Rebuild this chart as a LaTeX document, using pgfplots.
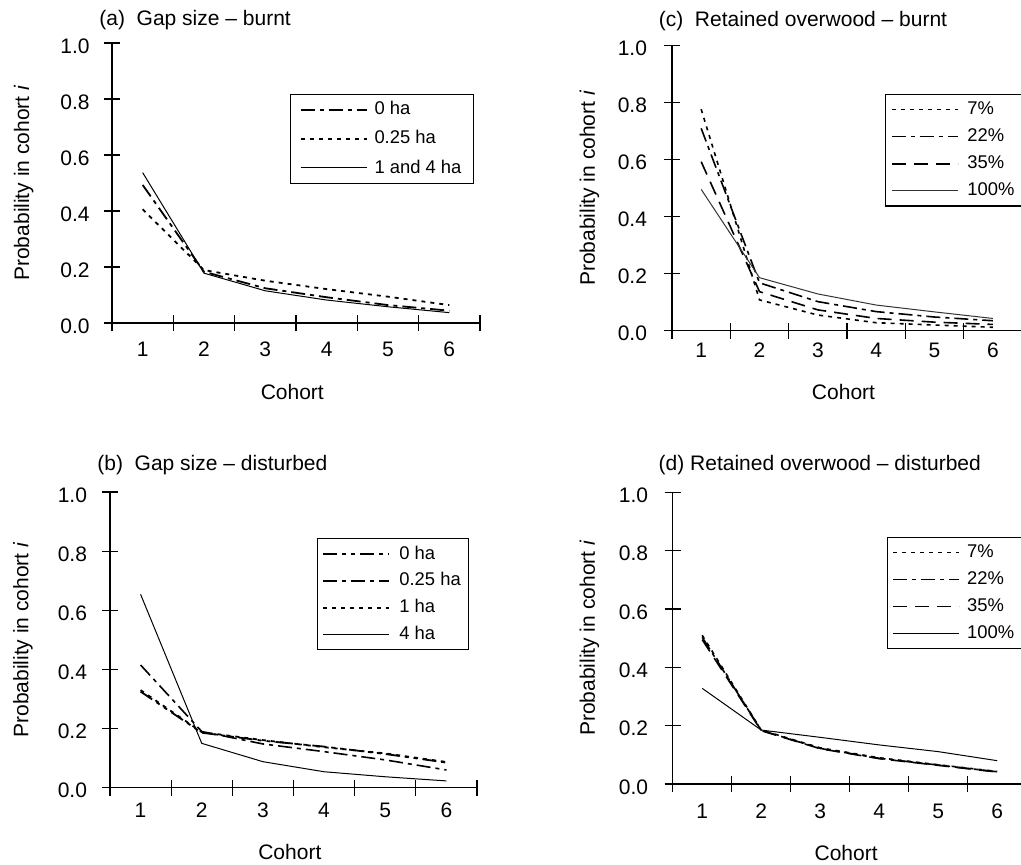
\documentclass[border=0pt]{standalone}
\usepackage{fontspec}
\setmainfont{Liberation Sans}
\usepackage{pgfplots}
\pgfplotsset{compat=1.18}
\pgfplotsset{
  panel/.style={
    scale only axis, axis lines=left, axis line style={-, line width=0.6pt},
    xmin=0.5, xmax=6.5, ymin=0, ymax=1,
    xtick={0.5,1.5,2.5,3.5,4.5,5.5,6.5}, xticklabels={{},{},{},{},{},{},{}},
    extra x ticks={1,2,3,4,5,6}, extra x tick labels={1,2,3,4,5,6},
    extra x tick style={major tick length=0pt},
    ytick={0,0.2,0.4,0.6,0.8,1}, yticklabels={0.0,0.2,0.4,0.6,0.8,1.0},
    tick align=center, major tick length=8pt, tick style={black, line width=0.6pt},
    /pgf/number format/assume math mode=true,
    clip=false,
    ylabel={Probability in cohort \textit{i}},
    xlabel={Cohort},
    legend cell align=left,
    legend image code/.code={\draw[##1] (0pt,0pt) -- (33pt,0pt);},
    title style={anchor=base west},
  },
  dd/.style={line width=0.9pt, dash pattern=on 7pt off 2.5pt on 2pt off 2.5pt},
  ddd/.style={line width=0.9pt, dash pattern=on 7pt off 2.5pt on 2pt off 2.5pt on 2pt off 2.5pt},
  dots/.style={line width=0.9pt, dash pattern=on 2pt off 2.5pt},
  dsh/.style={line width=0.9pt, dash pattern=on 7pt off 4pt},
  sol/.style={line width=0.5pt},
  leg/.style={draw=black, line width=0.6pt, font=\fontsize{9.2}{11}\selectfont,
    inner ysep=2pt, nodes={inner sep=1.5pt}},
}
\begin{document}
\fontsize{10.5}{12.6}\selectfont
\begin{tikzpicture}
% (a)
\begin{axis}[panel, at={(56pt,270.5pt)}, anchor=south west, width=184pt, height=140pt,
  title={(a)\ \ Gap size – burnt},
  title style={at={(axis description cs:0,1)}, xshift=-10pt, yshift=2.5pt},
  ylabel style={at={(axis description cs:-0.24,0.5)}, anchor=center},
  xlabel style={at={(axis description cs:0.49,0)}, anchor=center, yshift=-34.5pt},
  xticklabel style={anchor=center, yshift=-13.2pt},
  yticklabel style={anchor=east, xshift=-3.5pt, yshift=-1.5pt},
  legend style={leg, at={(0.484,0.818)}, anchor=north west,
    inner xsep=4.5pt, row sep=3.3pt,
    /tikz/every odd column/.append style={column sep=2pt}},
]
\addplot[dd] coordinates {(1,0.493) (2,0.183) (3,0.124) (4,0.092) (5,0.064) (6,0.044)};
\addlegendentry{0 ha}
\addplot[dots] coordinates {(1,0.406) (2,0.189) (3,0.151) (4,0.121) (5,0.094) (6,0.064)};
\addlegendentry{0.25 ha}
\addplot[sol] coordinates {(1,0.537) (2,0.178) (3,0.115) (4,0.082) (5,0.058) (6,0.037)};
\addlegendentry{1 and 4 ha}
\end{axis}
% (c)
\begin{axis}[panel, at={(336pt,266.65pt)}, anchor=south west, width=175pt, height=142.5pt,
  title={(c)\ \ Retained overwood – burnt},
  title style={at={(axis description cs:0,1)}, xshift=-10.3pt, yshift=3.8pt},
  ylabel style={at={(axis description cs:-0.236,0.5)}, anchor=center},
  xlabel style={at={(axis description cs:0.49,0)}, anchor=center, yshift=-30.5pt},
  xticklabel style={anchor=center, yshift=-9.7pt},
  yticklabel style={anchor=east, xshift=-4.8pt, yshift=-1.5pt},
  legend style={leg, at={(0.609,0.831)}, anchor=north west,
    inner xsep=2.5pt, row sep=2.6pt,
    /tikz/every odd column/.append style={column sep=3pt}},
]
\addplot[dots, line width=0.8pt] coordinates {(1,0.777) (2,0.108) (3,0.055) (4,0.028) (5,0.02) (6,0.012)};
\addlegendentry{7\%}
\addplot[dd, line width=0.8pt] coordinates {(1,0.71) (2,0.168) (3,0.102) (4,0.067) (5,0.048) (6,0.035)};
\addlegendentry{22\%}
\addplot[dsh, line width=0.8pt] coordinates {(1,0.593) (2,0.137) (3,0.073) (4,0.043) (5,0.03) (6,0.022)};
\addlegendentry{35\%}
\addplot[sol, black!80] coordinates {(1,0.496) (2,0.186) (3,0.129) (4,0.09) (5,0.066) (6,0.043)};
\addlegendentry{100\%}
\end{axis}
% (b)
\begin{axis}[panel, at={(55pt,38.15pt)}, anchor=south west, width=183.5pt, height=147.85pt,
  title={(b)\ \ Gap size – disturbed},
  title style={at={(axis description cs:0,1)}, xshift=-10pt, yshift=4.7pt},
  ylabel style={at={(axis description cs:-0.237,0.5)}, anchor=center},
  xlabel style={at={(axis description cs:0.49,0)}, anchor=center, yshift=-32pt},
  xticklabel style={anchor=center, yshift=-11.2pt},
  yticklabel style={anchor=east, xshift=-3.8pt, yshift=-1.5pt},
  legend style={leg, at={(0.564,0.844)}, anchor=north west,
    inner xsep=2.5pt, row sep=2.2pt,
    /tikz/every odd column/.append style={column sep=3pt}},
]
\addplot[ddd] coordinates {(1,0.325) (2,0.186) (3,0.159) (4,0.139) (5,0.114) (6,0.085)};
\addlegendentry{0 ha}
\addplot[dd, line width=0.8pt] coordinates {(1,0.415) (2,0.19) (3,0.148) (4,0.122) (5,0.094) (6,0.06)};
\addlegendentry{0.25 ha}
\addplot[dots] coordinates {(1,0.33) (2,0.188) (3,0.161) (4,0.137) (5,0.116) (6,0.087)};
\addlegendentry{1 ha}
\addplot[sol] coordinates {(1,0.654) (2,0.15) (3,0.088) (4,0.054) (5,0.037) (6,0.023)};
\addlegendentry{4 ha}
\end{axis}
% (d)
\begin{axis}[panel, at={(336.35pt,40pt)}, anchor=south west, width=177pt, height=145.85pt,
  title={(d) Retained overwood – disturbed},
  title style={at={(axis description cs:0,1)}, xshift=-10.7pt, yshift=4.7pt},
  ylabel style={at={(axis description cs:-0.235,0.5)}, anchor=center},
  xlabel style={at={(axis description cs:0.49,0)}, anchor=center, yshift=-34.3pt},
  xticklabel style={anchor=center, yshift=-13.5pt},
  yticklabel style={anchor=east, xshift=-4.6pt, yshift=-1.5pt},
  legend style={leg, at={(0.605,0.847)}, anchor=north west,
    inner xsep=2.5pt, row sep=2.5pt,
    /tikz/every odd column/.append style={column sep=2pt}},
]
\addplot[dots, line width=0.8pt] coordinates {(1,0.51) (2,0.185) (3,0.124) (4,0.09) (5,0.066) (6,0.043)};
\addlegendentry{7\%}
\addplot[dd, line width=0.8pt] coordinates {(1,0.503) (2,0.184) (3,0.122) (4,0.088) (5,0.065) (6,0.042)};
\addlegendentry{22\%}
\addplot[dsh, line width=0.8pt] coordinates {(1,0.495) (2,0.183) (3,0.121) (4,0.087) (5,0.064) (6,0.041)};
\addlegendentry{35\%}
\addplot[sol] coordinates {(1,0.328) (2,0.185) (3,0.16) (4,0.134) (5,0.111) (6,0.08)};
\addlegendentry{100\%}
\end{axis}
\pgfresetboundingbox
\useasboundingbox (0pt,0pt) rectangle (510.5pt,432pt);
\end{tikzpicture}
\end{document}
